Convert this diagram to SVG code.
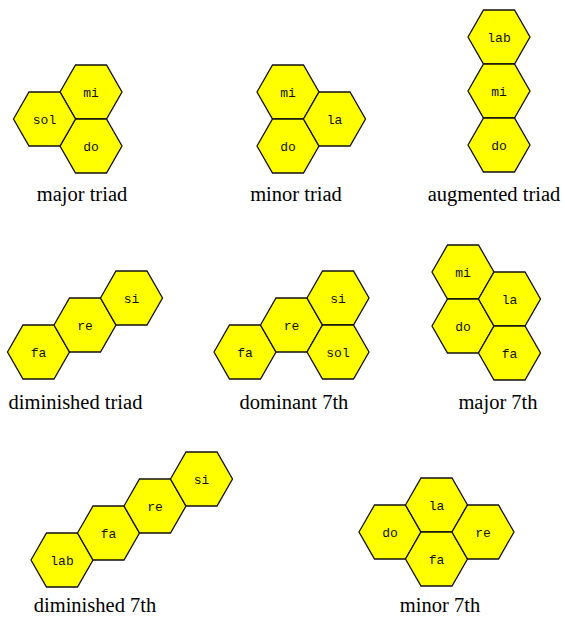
<svg xmlns="http://www.w3.org/2000/svg" xmlns:xlink="http://www.w3.org/1999/xlink" width="565" height="618" viewBox="0 0 565 618">
<style>
.hex{fill:#ffff00;stroke:#111;stroke-width:1.3;stroke-linejoin:miter}
.n{font-family:"Liberation Mono","Courier New",monospace;font-size:13px;fill:#111;text-anchor:middle}
.lbl{font-family:"Liberation Serif","Times New Roman",serif;font-size:20.5px;fill:#000;text-anchor:middle}
</style>
<defs>
<polygon id="hx" class="hex" points="-31,0 -15.5,-27 15.5,-27 31,0 15.5,27 -15.5,27"/>
</defs>
<rect width="565" height="618" fill="#fff"/>

<g id="major-triad">
<g id="mt-mi"><use xlink:href="#hx" x="91" y="92"/><text class="n" x="91" y="97">mi</text></g>
<g id="mt-do"><use xlink:href="#hx" x="91" y="146"/><text class="n" x="91" y="151">do</text></g>
<g id="mt-sol"><use xlink:href="#hx" x="44.5" y="119"/><text class="n" x="44.5" y="124">sol</text></g>
<text class="lbl" x="82" y="201">major triad</text>
</g>

<g id="minor-triad">
<g id="mn-mi"><use xlink:href="#hx" x="288" y="92"/><text class="n" x="288" y="97">mi</text></g>
<g id="mn-do"><use xlink:href="#hx" x="288" y="146"/><text class="n" x="288" y="151">do</text></g>
<g id="mn-la"><use xlink:href="#hx" x="334.5" y="119"/><text class="n" x="334.5" y="124">la</text></g>
<text class="lbl" x="296" y="201">minor triad</text>
</g>

<g id="augmented-triad">
<g id="au-lab"><use xlink:href="#hx" x="499" y="37"/><text class="n" x="499" y="42">lab</text></g>
<g id="au-mi"><use xlink:href="#hx" x="499" y="91"/><text class="n" x="499" y="96">mi</text></g>
<g id="au-do"><use xlink:href="#hx" x="499" y="145"/><text class="n" x="499" y="150">do</text></g>
<text class="lbl" x="494" y="201">augmented triad</text>
</g>

<g id="diminished-triad">
<g id="dt-fa"><use xlink:href="#hx" x="38.5" y="352"/><text class="n" x="38.5" y="357">fa</text></g>
<g id="dt-re"><use xlink:href="#hx" x="85" y="325"/><text class="n" x="85" y="330">re</text></g>
<g id="dt-si"><use xlink:href="#hx" x="131.5" y="298"/><text class="n" x="131.5" y="303">si</text></g>
<text class="lbl" x="75.5" y="409">diminished triad</text>
</g>

<g id="dominant-7th">
<g id="d7-fa"><use xlink:href="#hx" x="245" y="352"/><text class="n" x="245" y="357">fa</text></g>
<g id="d7-re"><use xlink:href="#hx" x="291.5" y="325"/><text class="n" x="291.5" y="330">re</text></g>
<g id="d7-si"><use xlink:href="#hx" x="338" y="298"/><text class="n" x="338" y="303">si</text></g>
<g id="d7-sol"><use xlink:href="#hx" x="338" y="352"/><text class="n" x="338" y="357">sol</text></g>
<text class="lbl" x="294" y="409">dominant 7th</text>
</g>

<g id="major-7th">
<g id="m7-mi"><use xlink:href="#hx" x="463" y="272"/><text class="n" x="463" y="277">mi</text></g>
<g id="m7-do"><use xlink:href="#hx" x="463" y="326"/><text class="n" x="463" y="331">do</text></g>
<g id="m7-la"><use xlink:href="#hx" x="509.5" y="299"/><text class="n" x="509.5" y="304">la</text></g>
<g id="m7-fa"><use xlink:href="#hx" x="509.5" y="353"/><text class="n" x="509.5" y="358">fa</text></g>
<text class="lbl" x="498" y="409">major 7th</text>
</g>

<g id="diminished-7th">
<g id="dd-lab"><use xlink:href="#hx" x="62" y="560"/><text class="n" x="62" y="565">lab</text></g>
<g id="dd-fa"><use xlink:href="#hx" x="108.5" y="533"/><text class="n" x="108.5" y="538">fa</text></g>
<g id="dd-re"><use xlink:href="#hx" x="155" y="506"/><text class="n" x="155" y="511">re</text></g>
<g id="dd-si"><use xlink:href="#hx" x="201.5" y="479"/><text class="n" x="201.5" y="484">si</text></g>
<text class="lbl" x="95" y="612">diminished 7th</text>
</g>

<g id="minor-7th">
<g id="n7-do"><use xlink:href="#hx" x="390" y="532"/><text class="n" x="390" y="537">do</text></g>
<g id="n7-la"><use xlink:href="#hx" x="436.5" y="505"/><text class="n" x="436.5" y="510">la</text></g>
<g id="n7-fa"><use xlink:href="#hx" x="436.5" y="559"/><text class="n" x="436.5" y="564">fa</text></g>
<g id="n7-re"><use xlink:href="#hx" x="483" y="532"/><text class="n" x="483" y="537">re</text></g>
<text class="lbl" x="440" y="612">minor 7th</text>
</g>
</svg>
